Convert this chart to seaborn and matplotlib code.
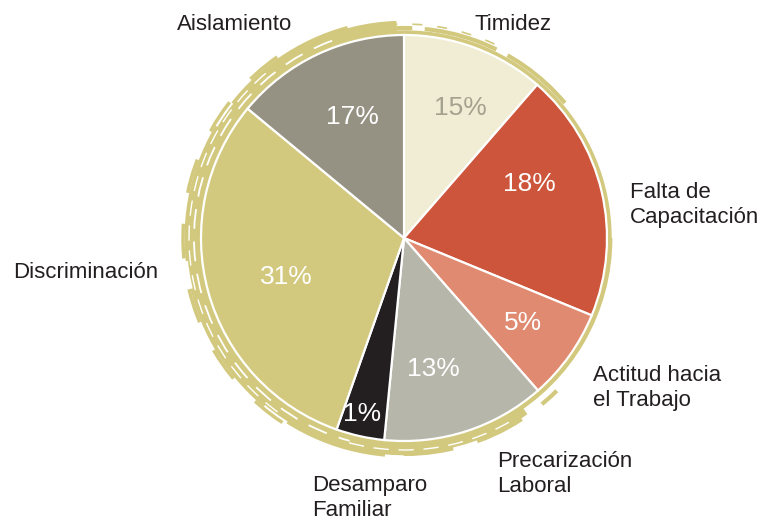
import matplotlib.pyplot as plt
import numpy as np
import seaborn as sns
from matplotlib.patches import Arc, Circle

# slices, clockwise from 12 o'clock
categories = ["Timidez", "Falta de\nCapacitación", "Actitud hacia\nel Trabajo",
              "Precarización\nLaboral", "Desamparo\nFamiliar", "Discriminación",
              "Aislamiento"]
pct_labels = ["15%", "18%", "5%", "13%", "1%", "31%", "17%"]
# wedge sweep as drawn in the picture (degrees), not the printed percentages
wedge_deg = [41.0, 71.4, 26.3, 46.9, 13.8, 110.2, 50.4]
colors = ["#f0edd4", "#cc553b", "#e08b71", "#b7b6aa", "#231f20", "#d3c97e", "#959183"]
pct_colors = ["#a5a18f", "white", "white", "white", "white", "white", "white"]

sns.set_theme(style="white")
plt.rcParams["font.family"] = ["Liberation Sans", "DejaVu Sans"]

W, H = 760, 522
fig = plt.figure(figsize=(W / 100, H / 100), dpi=100)
ax = fig.add_axes([0, 0, 1, 1])
ax.set_aspect("equal")

cx, cy, R = 404, 284, 203
tan = "#d3c97e"

# brushy ring behind the pie
ax.add_patch(Circle((cx, cy), R + 4, color=tan, zorder=0))
for r, t1, t2, lw, ls in [
    (R + 8, 92, 280, 9, "-"),
    (R + 13, 105, 265, 5, (0, (20, 4))),
    (R + 18, 125, 240, 2.5, (0, (10, 9))),
    (R + 7, 40, 100, 3, (0, (18, 3))),
    (R + 11, 65, 95, 1.2, (0, (6, 9))),
    (R + 8, 240, 305, 6, "-"),
    (R + 13, 250, 315, 3, (0, (12, 6))),
    (R + 4, 300, 360, 2, "-"),
]:
    ax.add_patch(Arc((cx, cy), 2 * r, 2 * r, theta1=t1, theta2=t2,
                     color=tan, lw=lw, ls=ls, zorder=0))
for r, t1, t2, lw in [(R + 7, 110, 255, 1.3), (R + 12, 130, 235, 1.0),
                      (R + 9, 255, 300, 1.0)]:
    ax.add_patch(Arc((cx, cy), 2 * r, 2 * r, theta1=t1, theta2=t2,
                     color="white", lw=lw, ls=(0, (11, 7)), zorder=0.5))

wedges, _ = ax.pie(wedge_deg, colors=colors, startangle=90, counterclock=False,
                   center=(cx, cy), radius=R, frame=True,
                   wedgeprops=dict(edgecolor="white", linewidth=1.6))
ax.set_xlim(0, W)
ax.set_ylim(0, H)
ax.axis("off")

# percentage labels: radius fraction and angle nudge per slice
pct_r = [0.70, 0.67, 0.72, 0.66, 0.89, 0.61, 0.65]
pct_da = [-3, 10, 0, -5, -1, 3, -2]
for w, lab, col, rf, da in zip(wedges, pct_labels, pct_colors, pct_r, pct_da):
    a = np.deg2rad((w.theta1 + w.theta2) / 2 + da)
    ax.text(cx + rf * R * np.cos(a), cy + rf * R * np.sin(a), lab,
            color=col, fontsize=19, ha="center", va="center")

# outer category labels
outer = [
    (513, 25, "center"), (630, 205, "left"), (593, 388, "left"),
    (497, 474, "left"), (312, 498, "left"), (158, 272, "right"),
    (235, 25, "center"),
]
for lab, (x, y, ha) in zip(categories, outer):
    ax.text(x, H - y, lab, fontsize=16, color="#231f20", ha=ha, va="center",
            linespacing=1.3)

fig.savefig("out.png", dpi=100)
